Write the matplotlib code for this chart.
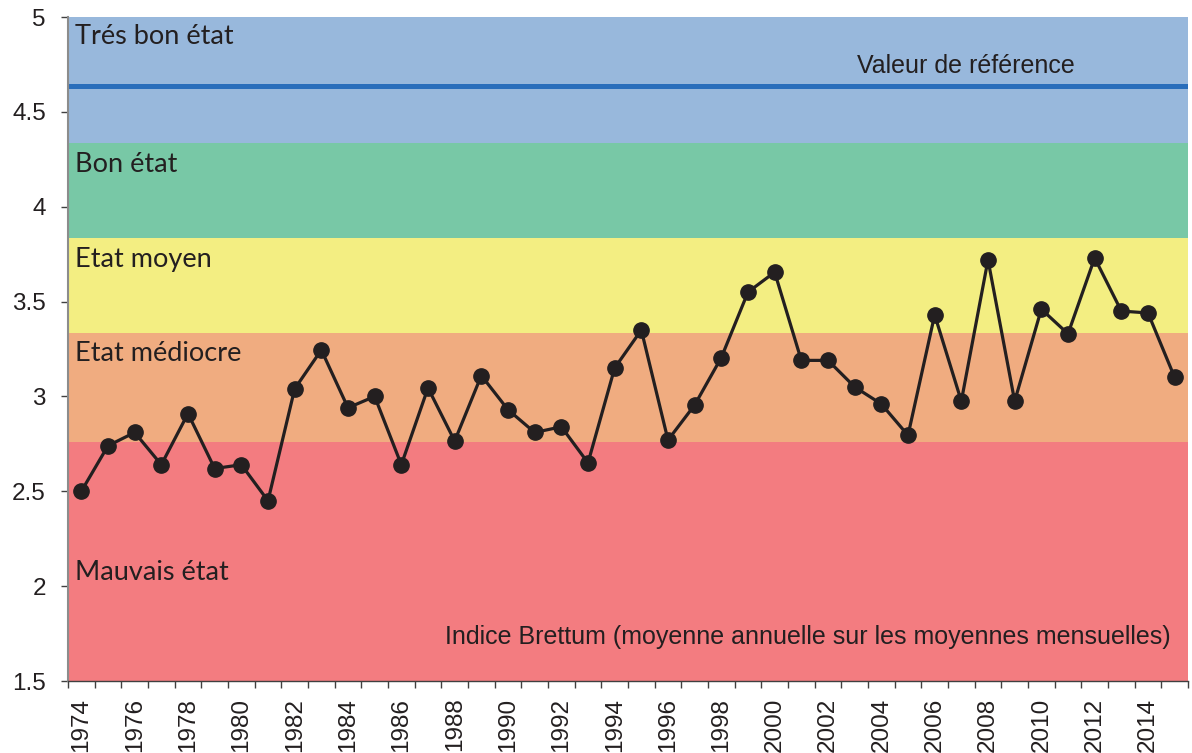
import matplotlib
matplotlib.use("Agg")
import matplotlib.pyplot as plt
import numpy as np

years = list(range(1974, 2016))
values = [2.50, 2.74, 2.81, 2.64, 2.91, 2.62, 2.64, 2.45, 3.04, 3.245,
          2.94, 3.00, 2.64, 3.045, 2.765, 3.11, 2.93, 2.81, 2.84, 2.65,
          3.15, 3.35, 2.77, 2.955, 3.205, 3.55, 3.655, 3.19, 3.19, 3.05,
          2.96, 2.795, 3.43, 2.975, 3.72, 2.975, 3.46, 3.33, 3.73, 3.45,
          3.44, 3.10]

band_edges = [1.5, 2.76, 3.335, 3.835, 4.335, 5.0]
band_colors = ["#F37C80", "#F0AC80", "#F3EE82", "#78C8A6", "#98B8DC"]
band_labels = ["Mauvais état", "Etat médiocre", "Etat moyen", "Bon état", "Trés bon état"]
band_label_y = [2.074, 3.224, 3.724, 4.22, 4.895]
ref_value = 4.636
ref_label = "Valeur de référence"
series_label = "Indice Brettum (moyenne annuelle sur les moyennes mensuelles)"
yticks = [1.5, 2, 2.5, 3, 3.5, 4, 4.5, 5]
ytick_labels = ["1.5", "2", "2.5", "3", "3.5", "4", "4.5", "5"]

fig = plt.figure(figsize=(11.92, 7.53), dpi=100)
ax = fig.add_axes([68/1192, 1-681/753, (1188-68)/1192, (681-17)/753])

x0, x1 = years[0] - 0.5, years[-1] + 0.5
for lo, hi, c in zip(band_edges[:-1], band_edges[1:], band_colors):
    ax.axhspan(lo, hi, color=c, lw=0, zorder=0)

ax.axhline(ref_value, color="#2A6EBB", lw=3.6, zorder=1)

ax.plot(years, values, color="#231F20", lw=2.3, marker="o", ms=11,
        markerfacecolor="#231F20", markeredgecolor="#231F20", zorder=3)

band_font = ["Lato", "DejaVu Sans"]
for lab, yy in zip(band_labels, band_label_y):
    ax.text(1973.75, yy, lab, fontsize=19.5, family=band_font,
            color="#231F20", va="center", ha="left", zorder=4)

ax.text(2007.18, 4.742, ref_label, fontsize=18, family="Liberation Sans",
        color="#231F20", va="center", ha="center", zorder=4)
ax.text(2014.85, 1.732, series_label, fontsize=18, family="Liberation Sans",
        color="#231F20", va="center", ha="right", zorder=4)

ax.set_xlim(x0, x1)
ax.set_ylim(1.5, 5)
ax.set_yticks(yticks)
ax.set_yticklabels(ytick_labels, family="Liberation Sans", fontsize=17.5, color="#231F20")

ax.set_xticks(np.arange(x0, x1 + 0.01, 1.0))
ax.set_xticklabels([])
ax.set_xticks(years[::2], minor=True)
ax.set_xticklabels([str(y) for y in years[::2]], minor=True, rotation=90,
                   family="Liberation Sans", fontsize=17.5, color="#231F20")
ax.tick_params(axis="x", which="minor", length=0, pad=12)
ax.tick_params(axis="x", which="major", length=5, width=1, color="#404040", direction="out")
ax.tick_params(axis="y", length=5, width=1, color="#404040", direction="out", pad=11)

for s in ["top", "right"]:
    ax.spines[s].set_visible(False)
ax.spines["left"].set_color("#8C8C8C")
ax.spines["left"].set_linewidth(1.5)
ax.spines["bottom"].set_color("#404040")
ax.spines["bottom"].set_linewidth(1)

fig.savefig("out.png", dpi=100)
